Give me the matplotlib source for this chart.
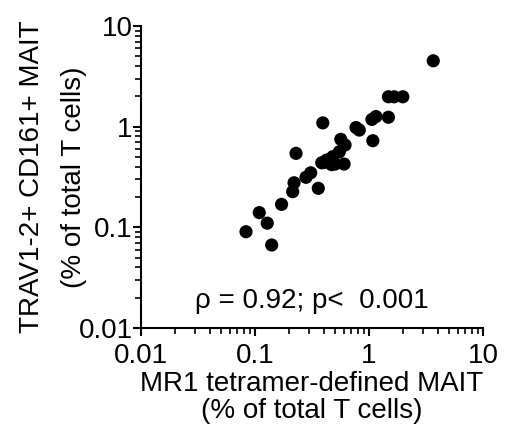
import matplotlib
matplotlib.use("Agg")
import matplotlib.pyplot as plt
import matplotlib.ticker as mticker

# values (% of total T cells)
mr1_tetramer = [3.66, 1.48, 1.66, 1.98, 1.06, 1.15, 1.48, 0.393, 0.769, 0.822,
                1.08, 0.565, 0.616, 0.549, 0.229, 0.481, 0.425, 0.385, 0.503,
                0.604, 0.40, 0.47, 0.308, 0.280, 0.220, 0.214, 0.359, 0.171,
                0.109, 0.128, 0.0834, 0.140]
trav_cd161 = [4.51, 1.98, 1.98, 1.98, 1.18, 1.26, 1.24, 1.09, 0.98, 0.925,
              0.725, 0.748, 0.657, 0.563, 0.543, 0.503, 0.466, 0.438, 0.425,
              0.425, 0.44, 0.42, 0.348, 0.314, 0.277, 0.226, 0.244, 0.169,
              0.140, 0.110, 0.0904, 0.0667]

plt.rcParams['font.family'] = ['Liberation Sans', 'DejaVu Sans']

fig = plt.figure(figsize=(5.12, 4.33), dpi=100)
ax = fig.add_axes([0.2754, 0.2425, 0.668, 0.6975])

ax.scatter(mr1_tetramer, trav_cd161, s=90, color='black', edgecolors='none', zorder=3)

ax.set_xscale('log')
ax.set_yscale('log')
ax.set_xlim(0.01, 10)
ax.set_ylim(0.01, 10)
ax.xaxis.set_major_locator(mticker.FixedLocator([0.01, 0.1, 1, 10]))
ax.yaxis.set_major_locator(mticker.FixedLocator([0.01, 0.1, 1, 10]))
ax.xaxis.set_major_formatter(mticker.FixedFormatter(['0.01', '0.1', '1', '10']))
ax.yaxis.set_major_formatter(mticker.FixedFormatter(['0.01', '0.1', '1', '10']))
ax.xaxis.set_minor_locator(mticker.LogLocator(base=10, subs=range(2, 10)))
ax.yaxis.set_minor_locator(mticker.LogLocator(base=10, subs=range(2, 10)))
ax.xaxis.set_minor_formatter(mticker.NullFormatter())
ax.yaxis.set_minor_formatter(mticker.NullFormatter())

for side in ['top', 'right']:
    ax.spines[side].set_visible(False)
for side in ['left', 'bottom']:
    ax.spines[side].set_linewidth(1.5)

ax.tick_params(which='major', direction='out', length=6, width=1.5, labelsize=20)
ax.tick_params(which='minor', direction='out', length=4, width=1.2)
ax.tick_params(axis='x', which='major', pad=5)
ax.tick_params(axis='y', which='major', pad=0)

ax.set_xlabel("MR1 tetramer-defined MAIT\n(% of total T cells)", fontsize=20,
              labelpad=1, linespacing=1.05)
ax.set_ylabel("TRAV1-2+ CD161+ MAIT\n(% of total T cells)", fontsize=20,
              labelpad=-6, linespacing=1.8)

ax.text(0.5, 0.066, "ρ = 0.92; p<  0.001", transform=ax.transAxes,
        ha='center', va='baseline', fontsize=20)

fig.savefig("out.png", dpi=100)
plt.close(fig)
